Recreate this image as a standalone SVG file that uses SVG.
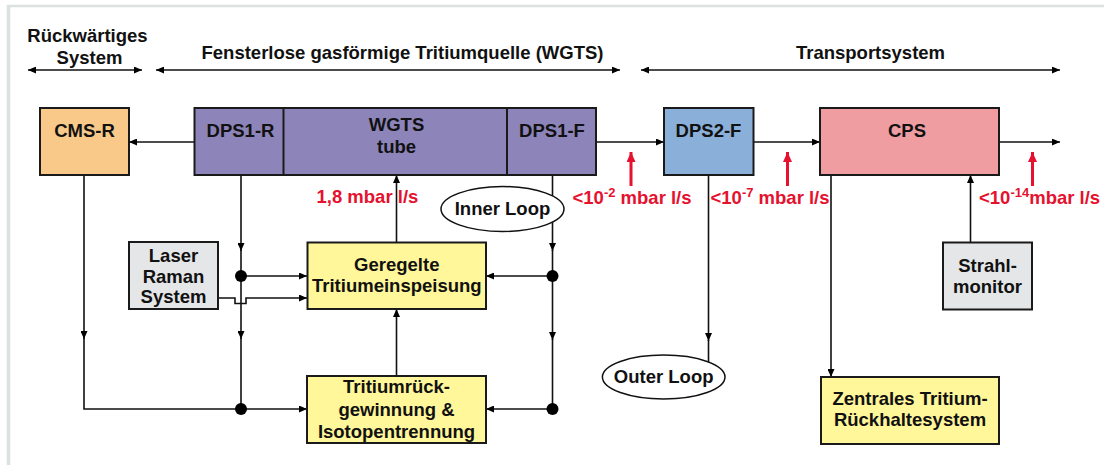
<svg xmlns="http://www.w3.org/2000/svg" width="1104" height="465" viewBox="0 0 1104 465">
  <style>
    .t { font-family: "Liberation Sans", Arial, sans-serif; font-weight: bold; font-size: 18.5px; fill: #111; text-anchor: middle; }
    .red { font-family: "Liberation Sans", Arial, sans-serif; font-weight: bold; font-size: 18.5px; fill: #E5112E; }
    .sup { font-size: 13px; }
    .box { stroke: #1a1a1a; stroke-width: 2; }
    .line { fill: none; stroke: #111; stroke-width: 1.6; }
    .redarrow { fill: none; stroke: #E5112E; stroke-width: 3; }
    .dot { fill: #000; }
  </style>
  <defs>
    <marker id="arr" viewBox="0 0 8 7" refX="8" refY="3.5" markerWidth="8" markerHeight="7" markerUnits="userSpaceOnUse" orient="auto-start-reverse">
      <path d="M0,0 L8,3.5 L0,7 z" fill="#000"/>
    </marker>
    <marker id="arrRed" viewBox="0 0 10 9" refX="10" refY="4.5" markerWidth="10" markerHeight="9" markerUnits="userSpaceOnUse" orient="auto">
      <path d="M0,0 L10,4.5 L0,9 z" fill="#E5112E"/>
    </marker>
  </defs>

  <!-- page frame -->
  <rect x="0" y="0" width="1104" height="465" fill="#fff"/>
  <line x1="7" y1="6" x2="1104" y2="6" stroke="#dce3df" stroke-width="2.5"/>
  <line x1="8.5" y1="5" x2="8.5" y2="465" stroke="#dce3df" stroke-width="3.5"/>

  <!-- section headers -->
  <g id="headers">
    <text class="t" x="87.5" y="41.5">Rückwärtiges</text>
    <text class="t" x="89.5" y="63.5">System</text>
    <text class="t" x="402.5" y="59">Fensterlose gasförmige Tritiumquelle (WGTS)</text>
    <text class="t" x="870.5" y="59.3">Transportsystem</text>
    <line class="line" x1="28" y1="70" x2="142" y2="70" marker-start="url(#arr)" marker-end="url(#arr)"/>
    <line class="line" x1="156" y1="70" x2="620" y2="70" marker-start="url(#arr)" marker-end="url(#arr)"/>
    <line class="line" x1="641" y1="70" x2="1060" y2="70" marker-start="url(#arr)" marker-end="url(#arr)"/>
  </g>

  <!-- connectors -->
  <g id="connectors">
    <!-- beam line -->
    <line class="line" x1="194" y1="142" x2="129" y2="142" marker-end="url(#arr)"/>
    <line class="line" x1="596" y1="142" x2="664" y2="142" marker-end="url(#arr)"/>
    <line class="line" x1="753" y1="142" x2="820" y2="142" marker-end="url(#arr)"/>
    <line class="line" x1="999" y1="142" x2="1060" y2="142" marker-end="url(#arr)"/>

    <!-- injection into tube -->
    <line class="line" x1="396.5" y1="242" x2="396.5" y2="175" marker-end="url(#arr)"/>

    <!-- CMS-R return -->
    <line class="line" x1="84" y1="175" x2="84" y2="339" marker-end="url(#arr)"/>
    <path class="line" d="M84,338 V409 H241"/>

    <!-- DPS1-R pumping line -->
    <line class="line" x1="241" y1="175" x2="241" y2="251" marker-end="url(#arr)"/>
    <line class="line" x1="241" y1="250" x2="241" y2="339" marker-end="url(#arr)"/>
    <line class="line" x1="241" y1="338" x2="241" y2="409"/>
    <line class="line" x1="241" y1="276" x2="307" y2="276" marker-end="url(#arr)"/>
    <line class="line" x1="241" y1="409" x2="307" y2="409" marker-end="url(#arr)"/>

    <!-- Laser Raman line, dipping under the vertical -->
    <path class="line" d="M218,298 H235 V303.5 H246 V298 H307" marker-end="url(#arr)"/>

    <!-- DPS1-F pumping line -->
    <line class="line" x1="552.5" y1="175" x2="552.5" y2="251" marker-end="url(#arr)"/>
    <line class="line" x1="552.5" y1="250" x2="552.5" y2="340" marker-end="url(#arr)"/>
    <line class="line" x1="552.5" y1="339" x2="552.5" y2="409"/>
    <line class="line" x1="552.5" y1="276" x2="486" y2="276" marker-end="url(#arr)"/>
    <line class="line" x1="552.5" y1="409" x2="486" y2="409" marker-end="url(#arr)"/>

    <!-- recovered tritium back to injection -->
    <line class="line" x1="396.5" y1="376" x2="396.5" y2="309" marker-end="url(#arr)"/>

    <!-- DPS2-F to outer loop -->
    <line class="line" x1="708.5" y1="175" x2="708.5" y2="341" marker-end="url(#arr)"/>
    <line class="line" x1="708.5" y1="340" x2="708.5" y2="370"/>

    <!-- CPS to central retention -->
    <line class="line" x1="831" y1="175" x2="831" y2="377" marker-end="url(#arr)"/>

    <!-- beam monitor to CPS -->
    <line class="line" x1="970.5" y1="242" x2="970.5" y2="175" marker-end="url(#arr)"/>

    <!-- junction dots -->
    <circle class="dot" cx="241" cy="276" r="6"/>
    <circle class="dot" cx="241" cy="409" r="6"/>
    <circle class="dot" cx="552.5" cy="276" r="6"/>
    <circle class="dot" cx="552.5" cy="409" r="6"/>

    <!-- gas flow indicators -->
    <line class="redarrow" x1="631" y1="186" x2="631" y2="152" marker-end="url(#arrRed)"/>
    <line class="redarrow" x1="787.5" y1="186" x2="787.5" y2="152" marker-end="url(#arrRed)"/>
    <line class="redarrow" x1="1032.5" y1="186" x2="1032.5" y2="152" marker-end="url(#arrRed)"/>
  </g>

  <!-- flow rate labels -->
  <g id="rates">
    <text class="red" x="316.5" y="203">1,8 mbar l/s</text>
    <text class="red" x="572.5" y="203.5">&lt;10<tspan class="sup" dy="-7">-2</tspan><tspan dy="7"> mbar l/s</tspan></text>
    <text class="red" x="710.5" y="203.5">&lt;10<tspan class="sup" dy="-7">-7</tspan><tspan dy="7"> mbar l/s</tspan></text>
    <text class="red" x="979" y="203.5">&lt;10<tspan class="sup" dy="-7">-14</tspan><tspan dy="7">mbar l/s</tspan></text>
  </g>

  <!-- nodes -->
  <g id="cms-r">
    <rect class="box" x="40" y="108" width="89" height="67" fill="#F9C98A"/>
    <text class="t" x="84.5" y="137">CMS-R</text>
  </g>
  <g id="wgts">
    <rect class="box" x="194.5" y="108" width="401.5" height="67" fill="#8D84B9"/>
    <line class="box" x1="283.5" y1="108" x2="283.5" y2="175"/>
    <line class="box" x1="507" y1="108" x2="507" y2="175"/>
  </g>
  <g id="dps1-r">
    <text class="t" x="240.5" y="137">DPS1-R</text>
  </g>
  <g id="wgts-tube">
    <text class="t" x="396.5" y="130.5">WGTS</text>
    <text class="t" x="396.5" y="152.5">tube</text>
  </g>
  <g id="dps1-f">
    <text class="t" x="552" y="137.3">DPS1-F</text>
  </g>
  <g id="dps2-f">
    <rect class="box" x="664" y="108" width="89.5" height="67" fill="#8AB0D9"/>
    <text class="t" x="708.5" y="137.3">DPS2-F</text>
  </g>
  <g id="cps">
    <rect class="box" x="820" y="108" width="179" height="67" fill="#F09DA2"/>
    <text class="t" x="907" y="136.7">CPS</text>
  </g>
  <g id="inner-loop">
    <ellipse cx="502.5" cy="209" rx="61.5" ry="22.5" fill="#fff" stroke="#111" stroke-width="1.5"/>
    <text class="t" x="502.5" y="215">Inner Loop</text>
  </g>
  <g id="laser-raman">
    <rect class="box" x="129" y="242" width="89" height="67" fill="#E5E6E8"/>
    <text class="t" x="173.5" y="262">Laser</text>
    <text class="t" x="173.5" y="282.5">Raman</text>
    <text class="t" x="173.5" y="303">System</text>
  </g>
  <g id="tritium-injection">
    <rect class="box" x="307.5" y="242.5" width="178.5" height="66.5" fill="#FFF799"/>
    <text class="t" x="396.8" y="270.7">Geregelte</text>
    <text class="t" x="396.8" y="291.7">Tritiumeinspeisung</text>
  </g>
  <g id="tritium-recovery">
    <rect class="box" x="307" y="376" width="179" height="67" fill="#FFF799"/>
    <text class="t" x="396.5" y="393.3">Tritiumrück-</text>
    <text class="t" x="396.5" y="415.8">gewinnung &amp;</text>
    <text class="t" x="396.5" y="438">Isotopentrennung</text>
  </g>
  <g id="outer-loop">
    <ellipse cx="663.7" cy="377" rx="61.3" ry="22" fill="#fff" stroke="#111" stroke-width="1.5"/>
    <text class="t" x="663.7" y="383">Outer Loop</text>
  </g>
  <g id="beam-monitor">
    <rect class="box" x="943" y="242.5" width="89" height="67" fill="#E5E6E8"/>
    <text class="t" x="987.5" y="271.7">Strahl-</text>
    <text class="t" x="987.5" y="293.3">monitor</text>
  </g>
  <g id="central-retention">
    <rect class="box" x="821" y="377" width="178" height="67" fill="#FFF799"/>
    <text class="t" x="910" y="405">Zentrales Tritium-</text>
    <text class="t" x="910" y="425.5">Rückhaltesystem</text>
  </g>
</svg>
